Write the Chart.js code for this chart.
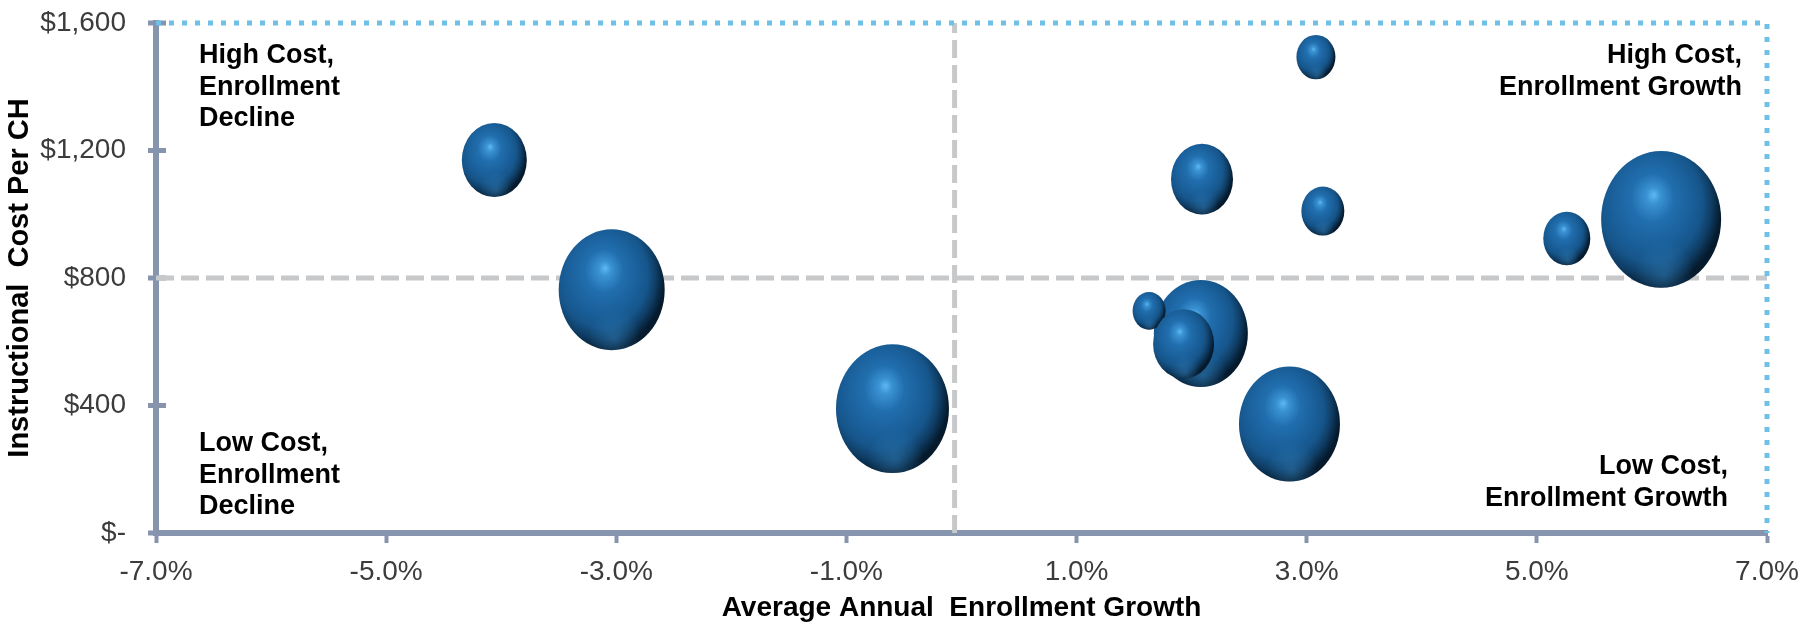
<!DOCTYPE html>
<html><head><meta charset="utf-8">
<script src="https://cdn.jsdelivr.net/npm/chart.js@4.4.1/dist/chart.umd.min.js"></script>
<style>html,body{margin:0;padding:0;background:#fff;}#wrap{width:1817px;height:625px;}</style>
</head><body><div id="wrap"><canvas id="c" width="1817" height="625"></canvas></div>
<script>
// ---- data ----
const growth     = [-4.06, -3.04, -0.60, 2.09, 3.08, 3.14, 5.26, 6.08, 2.08, 1.63, 1.93, 2.85];
const cost       = [1170, 763, 390, 1110, 1493, 1010, 924, 984, 626, 697, 593, 342];
const bubbleSize = [32.5, 53, 56.5, 31, 19.5, 21.5, 23.5, 60, 47, 16.5, 30.5, 50.5];
const xTickLabels = ['-7.0%', '-5.0%', '-3.0%', '-1.0%', '1.0%', '3.0%', '5.0%', '7.0%'];
const yTickLabels = ['$-', '$400', '$800', '$1,200', '$1,600'];
const dividerX = -0.06;
const dividerY = 800;
const xMin = -7, xMax = 7, yMin = 0, yMax = 1600;
const xTitle = 'Average Annual  Enrollment Growth';
const yTitle = 'Instructional  Cost Per CH';
const quadHighDecline = ['High Cost,', 'Enrollment', 'Decline'];
const quadLowDecline  = ['Low Cost,', 'Enrollment', 'Decline'];
const quadHighGrowth  = ['High Cost,', 'Enrollment Growth'];
const quadLowGrowth   = ['Low Cost,', 'Enrollment Growth'];

const FONT = "Arial, 'Liberation Sans', sans-serif";
const AXIS = '#8794ad';

const spherePlugin = {
  id: 'sphere',
  afterDatasetDraw(chart, args) {
    if (args.meta.type !== 'bubble') return;
    const ctx = chart.ctx;
    const K = 1.14;
    args.meta.data.forEach(el => {
      const r = el.options.radius;
      ctx.save();
      ctx.translate(el.x, el.y);
      ctx.scale(1, K);
      ctx.beginPath();
      ctx.arc(0, 0, r, 0, Math.PI * 2);
      const g = ctx.createRadialGradient(-0.12 * r, -0.36 * r, 0, -0.2 * r, -0.2 * r, 1.2 * r);
      g.addColorStop(0, '#5db8f2');
      g.addColorStop(0.1, '#3a92d2');
      g.addColorStop(0.3, '#216eae');
      g.addColorStop(0.55, '#1a609b');
      g.addColorStop(0.72, '#16558a');
      g.addColorStop(0.85, '#0f3e66');
      g.addColorStop(0.95, '#082640');
      g.addColorStop(1, '#051a2d');
      ctx.fillStyle = g;
      ctx.fill();
      ctx.clip();
      const g2 = ctx.createRadialGradient(0.05 * r, 0.8 * r, 0, 0.05 * r, 0.8 * r, 0.5 * r);
      g2.addColorStop(0, 'rgba(55,135,195,0.45)');
      g2.addColorStop(1, 'rgba(55,135,195,0)');
      ctx.fillStyle = g2;
      ctx.fillRect(-r, -r, 2 * r, 2 * r);
      ctx.restore();
    });
  }
};

const yStubPlugin = {
  id: 'ystub',
  beforeDatasetsDraw(chart) {
    const ctx = chart.ctx, ys = chart.scales.y, a = chart.chartArea;
    ctx.save();
    ctx.fillStyle = AXIS;
    ys.ticks.forEach(t => {
      const y = ys.getPixelForValue(t.value);
      ctx.fillRect(a.left - 8, y - 2.5, 18, 5);
    });
    ctx.restore();
  }
};

const quadPlugin = {
  id: 'quad',
  afterDatasetsDraw(chart) {
    const ctx = chart.ctx;
    const a = chart.chartArea;
    ctx.save();
    ctx.fillStyle = '#000';
    ctx.font = 'bold 27px ' + FONT;
    ctx.textBaseline = 'middle';
    const lh = 31.5;
    ctx.textAlign = 'left';
    quadHighDecline.forEach((t, i) => ctx.fillText(t, a.left + 43, a.top + 33 + i * lh));
    quadLowDecline.forEach((t, i) => ctx.fillText(t, a.left + 43, a.bottom - 89 + i * lh));
    ctx.textAlign = 'right';
    quadHighGrowth.forEach((t, i) => ctx.fillText(t, a.right - 25, a.top + 33 + i * lh));
    quadLowGrowth.forEach((t, i) => ctx.fillText(t, a.right - 39, a.bottom - 66 + i * lh));
    ctx.restore();
  }
};

new Chart(document.getElementById('c'), {
  type: 'bubble',
  data: {
    datasets: [
      { type: 'line', data: [{x: xMin, y: dividerY}, {x: xMax, y: dividerY}],
        borderColor: '#c6c8c9', borderWidth: 5, borderDash: [18, 7], pointRadius: 0, fill: false, order: 3 },
      { type: 'line', data: [{x: dividerX, y: yMin}, {x: dividerX, y: yMax}],
        borderColor: '#c6c8c9', borderWidth: 5, borderDash: [18, 7], pointRadius: 0, fill: false, order: 3 },
      { type: 'line', data: [{x: xMin, y: yMax}, {x: xMax, y: yMax}, {x: xMax, y: yMin}],
        borderColor: '#6ec0e6', borderWidth: 5, borderDash: [5, 8], pointRadius: 0, fill: false, order: 2, clip: false },
      { type: 'bubble', data: growth.map((g, i) => ({x: g, y: cost[i], r: bubbleSize[i]})),
        backgroundColor: 'rgba(0,0,0,0)', borderWidth: 0, order: 1, clip: false }
    ]
  },
  options: {
    responsive: false,
    animation: false,
    devicePixelRatio: 1,
    layout: { autoPadding: false, padding: { top: 23, right: 50, left: 0, bottom: 0 } },
    plugins: { legend: { display: false }, tooltip: { enabled: false } },
    scales: {
      x: {
        type: 'linear', min: xMin, max: xMax,
        afterFit: s => { s.height = 92; },
        ticks: { stepSize: 2, autoSkip: false, maxRotation: 0, padding: 12, color: '#3c3c3c',
          font: { size: 28, family: FONT },
          callback: v => xTickLabels[Math.round((v - xMin) / 2)] },
        grid: { drawOnChartArea: false, drawTicks: true, tickLength: 10, tickWidth: 4, tickColor: AXIS },
        border: { display: true, color: AXIS, width: 6 },
        title: { display: true, text: xTitle, color: '#000', font: { size: 28, weight: 'bold', family: FONT },
          padding: { top: 0, bottom: 0 } }
      },
      y: {
        type: 'linear', min: yMin, max: yMax,
        afterFit: s => { s.width = 156; },
        ticks: { stepSize: 400, autoSkip: false, padding: 0, color: '#3c3c3c',
          font: { size: 28, family: FONT },
          callback: v => yTickLabels[Math.round(v / 400)] },
        grid: { drawOnChartArea: false, drawTicks: true, tickLength: 30, tickWidth: 0, tickColor: 'rgba(0,0,0,0)' },
        border: { display: true, color: AXIS, width: 6 },
        title: { display: true, text: yTitle, color: '#000', font: { size: 29, weight: 'bold', family: FONT },
          padding: { top: 3, bottom: 0 } }
      }
    }
  },
  plugins: [yStubPlugin, spherePlugin, quadPlugin]
});
</script>
</body></html>
